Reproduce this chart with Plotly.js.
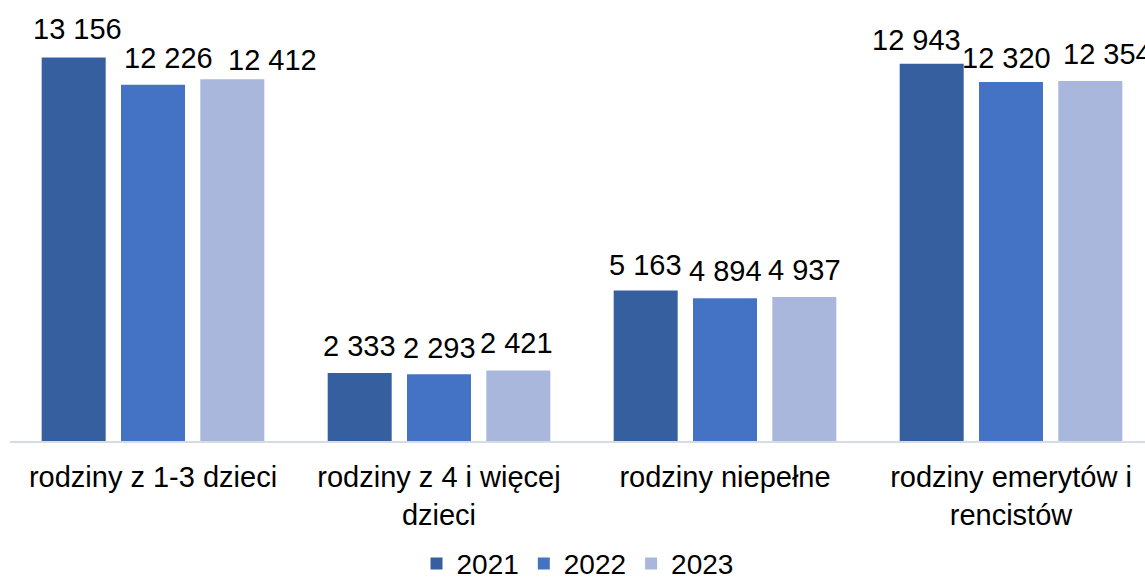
<!DOCTYPE html>
<html>
<head>
<meta charset="utf-8">
<script src="https://cdn.plot.ly/plotly-3.0.1.min.js"></script>
<style>html,body{margin:0;padding:0;background:#fff;}#chart{width:1145px;height:577px;}</style>
</head>
<body>
<div id="chart"></div>
<script>
// ---- data ----
const categories = ["rodziny z 1-3 dzieci", "rodziny z 4 i więcej<br>dzieci", "rodziny niepełne", "rodziny emerytów i<br>rencistów"];
const seriesNames = ["2021", "2022", "2023"];
const values2021 = [13156, 2333, 5163, 12943];
const values2022 = [12226, 2293, 4894, 12320];
const values2023 = [12412, 2421, 4937, 12354];

// ---- style ----
const colors = ["#365F9F", "#4472C4", "#A8B7DB"];
const seriesValues = [values2021, values2022, values2023];
const FONT = "Liberation Sans, Arial, sans-serif";
const bargap = 0.168, bargroupgap = 0.193;
const catPx = 286;
const slot = catPx * (1 - bargap) / 3;
// small label nudges [dx, dy] mimicking the reference's label placement
const nudges = [
  [[4, 2], [0, 0], [0, -1], [-15, -3]],
  [[15, 0], [0, -1], [0, 0], [-5, -3]],
  [[40, -8], [-2, 0], [0, 0], [17, 0]]
];

function fmt(v) { return String(v).replace(/\B(?=(\d{3})+(?!\d))/g, " "); }

const idx = categories.map((c, i) => i);
const traces = seriesNames.map((name, s) => ({
  type: "bar",
  name: name,
  x: idx,
  y: seriesValues[s],
  marker: { color: colors[s] },
  hoverinfo: "none"
}));

const annotations = [];
seriesValues.forEach((vals, s) => {
  vals.forEach((v, i) => {
    annotations.push({
      x: i, y: v, xref: "x", yref: "y",
      text: fmt(v), showarrow: false,
      xanchor: "center", yanchor: "bottom",
      xshift: (s - 1) * slot + nudges[s][i][0],
      yshift: 9 + nudges[s][i][1],
      font: { family: FONT, size: 29, color: "#000" }
    });
  });
});

const layout = {
  width: 1145, height: 577,
  margin: { l: 10, r: 0, t: 33, b: 136, autoexpand: false },
  paper_bgcolor: "#fff", plot_bgcolor: "#fff",
  barmode: "group", bargap: bargap, bargroupgap: bargroupgap,
  showlegend: true,
  legend: {
    orientation: "h", x: 0.5, xanchor: "center",
    y: -0.362, yanchor: "bottom",
    font: { family: FONT, size: 28, color: "#000" },
    traceorder: "normal"
  },
  xaxis: {
    tickmode: "array", tickvals: idx, ticktext: categories,
    range: [-0.5, 3.4685],
    showline: true, linecolor: "#D6DCE5", linewidth: 2,
    ticks: "outside", ticklen: 9, tickcolor: "rgba(0,0,0,0)",
    showgrid: false, zeroline: false,
    tickfont: { family: FONT, size: 29, color: "#000" },
    fixedrange: true
  },
  yaxis: {
    range: [0, 14000], showgrid: false, zeroline: false,
    showticklabels: false, showline: false, fixedrange: true
  },
  annotations: annotations,
  font: { family: FONT }
};

Plotly.newPlot("chart", traces, layout, { displayModeBar: false, staticPlot: true });
</script>
</body>
</html>
